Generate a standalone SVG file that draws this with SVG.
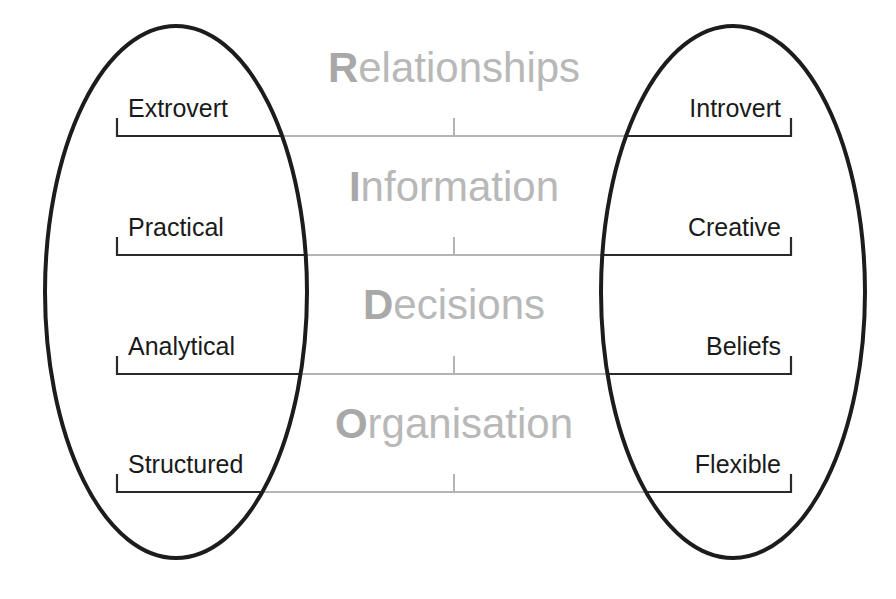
<svg xmlns="http://www.w3.org/2000/svg" width="896" height="599" viewBox="0 0 896 599">
<style>
.bg{fill:#fff}
.ell{fill:none;stroke:#1c1c1c;stroke-width:4}
.blk{fill:none;stroke:#2a2a2a;stroke-width:2.2}
.gry{fill:none;stroke:#b4b4b4;stroke-width:2}
.lbl{font-family:"Liberation Sans",Arial,sans-serif;font-size:25px;fill:#1a1a1a}
.end{text-anchor:end}
.head{font-family:"Liberation Sans",Arial,sans-serif;font-size:42px;fill:#b8b8b8;text-anchor:middle}
.cap{font-weight:bold;fill:#a8a8a8}
</style>
<rect class="bg" x="0" y="0" width="896" height="599"/>
<g id="connectors">
  <line class="gry" x1="282" y1="136" x2="626" y2="136"/>
  <line class="gry" x1="454" y1="118" x2="454" y2="136"/>
  <line class="gry" x1="305" y1="255" x2="602" y2="255"/>
  <line class="gry" x1="454" y1="237" x2="454" y2="255"/>
  <line class="gry" x1="300" y1="374" x2="608" y2="374"/>
  <line class="gry" x1="454" y1="356" x2="454" y2="374"/>
  <line class="gry" x1="262" y1="492" x2="646" y2="492"/>
  <line class="gry" x1="454" y1="474" x2="454" y2="492"/>
  <polyline class="blk" points="117,118 117,136 283,136"/>
  <polyline class="blk" points="625,136 791,136 791,118"/>
  <polyline class="blk" points="117,237 117,255 306,255"/>
  <polyline class="blk" points="601,255 791,255 791,237"/>
  <polyline class="blk" points="117,356 117,374 301,374"/>
  <polyline class="blk" points="607,374 791,374 791,356"/>
  <polyline class="blk" points="117,474 117,492 263,492"/>
  <polyline class="blk" points="645,492 791,492 791,474"/>
</g>
<g id="left-group">
  <ellipse class="ell" cx="176" cy="292" rx="131" ry="266"/>
</g>
<g id="right-group">
  <ellipse class="ell" cx="733" cy="292" rx="132" ry="266"/>
</g>
<g id="relationships">
  <text class="head" x="454" y="82"><tspan class="cap">R</tspan>elationships</text>
</g>
<g id="information">
  <text class="head" x="454" y="201"><tspan class="cap">I</tspan>nformation</text>
</g>
<g id="decisions">
  <text class="head" x="454" y="319"><tspan class="cap">D</tspan>ecisions</text>
</g>
<g id="organisation">
  <text class="head" x="454" y="438"><tspan class="cap">O</tspan>rganisation</text>
</g>
<g id="extrovert"><text class="lbl" x="128" y="117">Extrovert</text></g>
<g id="introvert"><text class="lbl end" x="781" y="117">Introvert</text></g>
<g id="practical"><text class="lbl" x="128" y="236">Practical</text></g>
<g id="creative"><text class="lbl end" x="781" y="236">Creative</text></g>
<g id="analytical"><text class="lbl" x="128" y="355">Analytical</text></g>
<g id="beliefs"><text class="lbl end" x="781" y="355">Beliefs</text></g>
<g id="structured"><text class="lbl" x="128" y="473">Structured</text></g>
<g id="flexible"><text class="lbl end" x="781" y="473">Flexible</text></g>
</svg>
